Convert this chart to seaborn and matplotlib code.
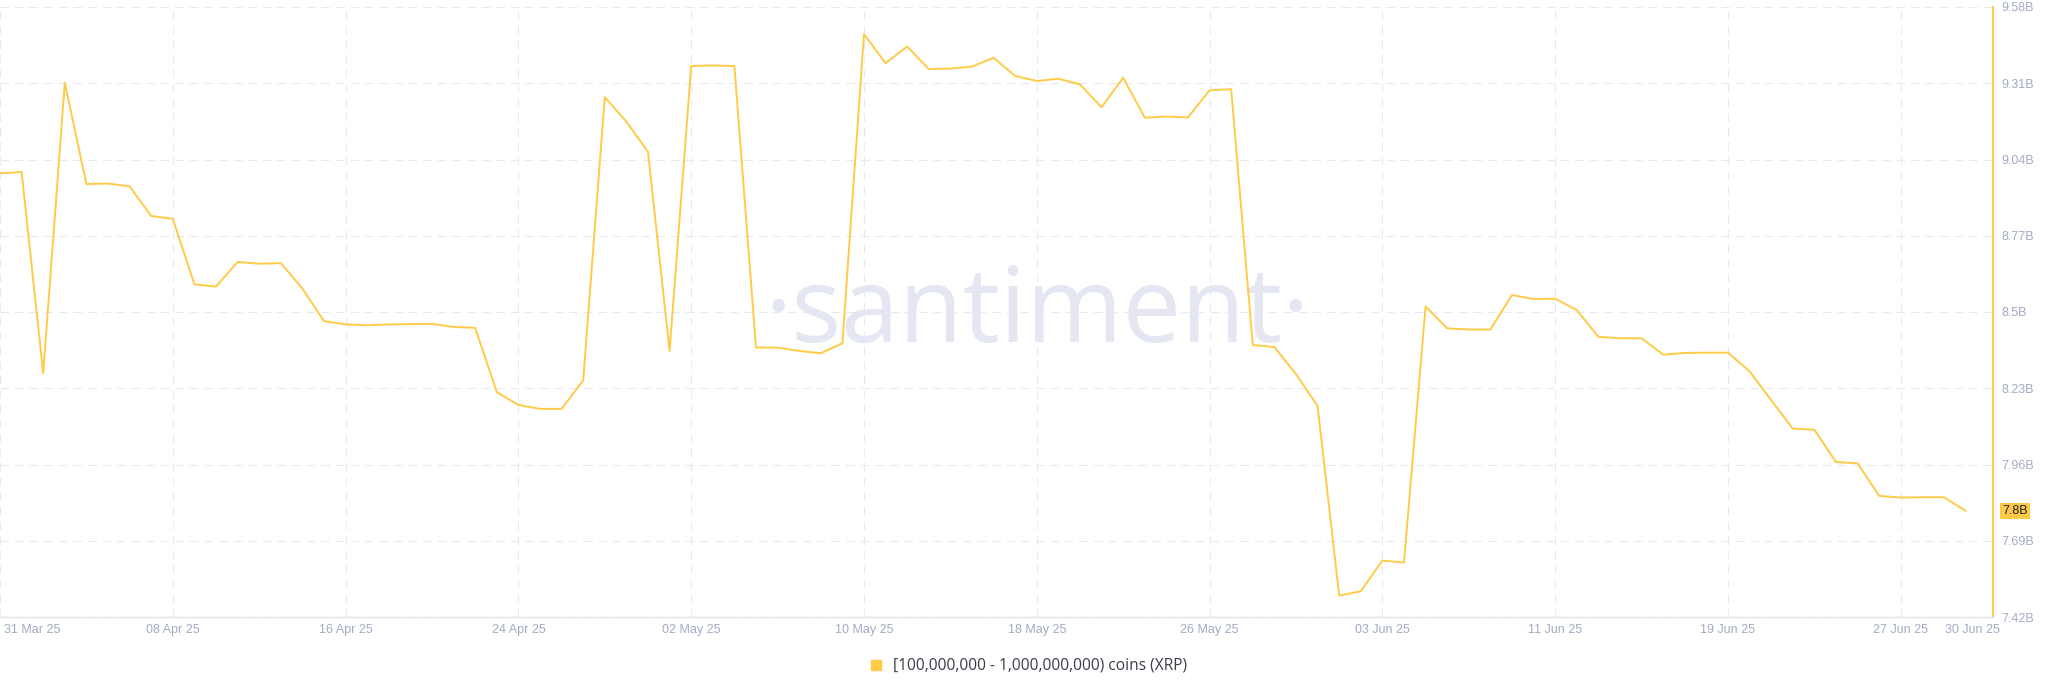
import seaborn as sns
import matplotlib.pyplot as plt
import matplotlib.dates as mdates
import matplotlib.transforms as mtransforms
from matplotlib.lines import Line2D
import pandas as pd

# daily holdings of wallets with 100M - 1B XRP, in billions of coins
start_date = "2025-03-31"
values = [8.991, 8.996, 8.283, 9.312, 8.953, 8.955, 8.945, 8.840, 8.830, 8.598,
          8.590, 8.677, 8.671, 8.673, 8.583, 8.468, 8.456, 8.453, 8.456, 8.457,
          8.458, 8.447, 8.444, 8.216, 8.171, 8.157, 8.157, 8.258, 9.261, 9.174,
          9.067, 8.362, 9.371, 9.373, 9.371, 8.374, 8.374, 8.362, 8.354, 8.389,
          9.484, 9.381, 9.440, 9.360, 9.362, 9.369, 9.400, 9.336, 9.318, 9.326,
          9.306, 9.225, 9.330, 9.188, 9.192, 9.189, 9.285, 9.289, 8.383, 8.376,
          8.280, 8.167, 7.496, 7.511, 7.620, 7.613, 8.520, 8.442, 8.438, 8.438,
          8.560, 8.546, 8.547, 8.507, 8.412, 8.407, 8.407, 8.349, 8.355, 8.356,
          8.356, 8.290, 8.188, 8.087, 8.083, 7.969, 7.964, 7.849, 7.843, 7.844,
          7.844, 7.796]
y_ticks = [7.42, 7.69, 7.96, 8.23, 8.5, 8.77, 9.04, 9.31, 9.58]
x_ticks = ["2025-03-31", "2025-04-08", "2025-04-16", "2025-04-24", "2025-05-02",
           "2025-05-10", "2025-05-18", "2025-05-26", "2025-06-03", "2025-06-11",
           "2025-06-19", "2025-06-27"]
last_tick = "2025-06-30"
series_name = "[100,000,000 - 1,000,000,000) coins (XRP)"

YELLOW = "#ffcb47"
MUTED = "#a3aac2"
GRID = "#e6e9f1"

df = pd.DataFrame({"date": pd.date_range(start_date, periods=len(values), freq="D"),
                   "value": values})

sns.set_style("white")
plt.rcParams["font.family"] = ["Liberation Sans", "DejaVu Sans"]

fig = plt.figure(figsize=(20.48, 6.93), dpi=100)
ax = fig.add_axes([0.0, 1 - 617 / 693, 1993 / 2048, (617 - 7) / 693])

# watermark
ax.text(0.5205, 0.495, "\u00b7santiment\u00b7", transform=ax.transAxes, ha="center", va="center",
        fontsize=75, color="#e4e7f1", family=["Open Sans", "DejaVu Sans"], zorder=0)

sns.lineplot(data=df, x="date", y="value", color=YELLOW, linewidth=1.4, ax=ax, zorder=3)

x0 = pd.Timestamp(start_date)
ax.set_xlim(x0, x0 + pd.Timedelta(days=92.27))
ax.set_ylim(y_ticks[0], y_ticks[-1])

ax.set_xticks([pd.Timestamp(d) for d in x_ticks])
ax.set_xticks([pd.Timestamp(last_tick)], minor=True)
ax.xaxis.set_major_formatter(mdates.DateFormatter("%d %b %y"))
ax.xaxis.set_minor_formatter(mdates.DateFormatter("%d %b %y"))
ax.tick_params(axis="x", which="both", length=0, pad=5, labelsize=9, labelcolor=MUTED)
first = ax.get_xticklabels()[0]
first.set_horizontalalignment("left")
first.set_transform(first.get_transform() + mtransforms.ScaledTranslation(4 / 100, 0, fig.dpi_scale_trans))
last = ax.get_xticklabels(minor=True)[0]
last.set_transform(last.get_transform() + mtransforms.ScaledTranslation(7 / 100, 0, fig.dpi_scale_trans))

ax.yaxis.tick_right()
ax.set_yticks(y_ticks)
ax.set_yticklabels([f"{v:g}B" for v in y_ticks])
ax.tick_params(axis="y", length=0, pad=6, labelsize=9, labelcolor=MUTED)

ax.grid(True, which="major", color=GRID, linestyle=(0, (8, 6)), linewidth=0.75)
ax.set_axisbelow(True)
ax.set_xlabel("")
ax.set_ylabel("")

for side in ["top", "left"]:
    ax.spines[side].set_visible(False)
ax.spines["bottom"].set_color("#e1e4ed")
ax.spines["bottom"].set_linewidth(1)
ax.spines["right"].set_color(YELLOW)
ax.spines["right"].set_linewidth(1.4)

# last value badge
trans = mtransforms.blended_transform_factory(ax.transAxes, ax.transData)
ax.text(1.0045, values[-1], f"{values[-1]:.1f}B", transform=trans, ha="left", va="center",
        fontsize=9, color="#1f2230",
        bbox=dict(boxstyle="square,pad=0.18", facecolor=YELLOW, edgecolor="none"))

handle = Line2D([], [], linestyle="none", marker="s", markersize=7,
                markerfacecolor=YELLOW, markeredgecolor=YELLOW)
fig.legend([handle], [series_name], loc="center", bbox_to_anchor=(0.5, 1 - 666 / 693),
           frameon=False, handletextpad=0.1, labelcolor="#3a3c48",
           prop={"family": ["Open Sans", "DejaVu Sans"], "size": 11.2})

fig.savefig("out.png", dpi=100)
